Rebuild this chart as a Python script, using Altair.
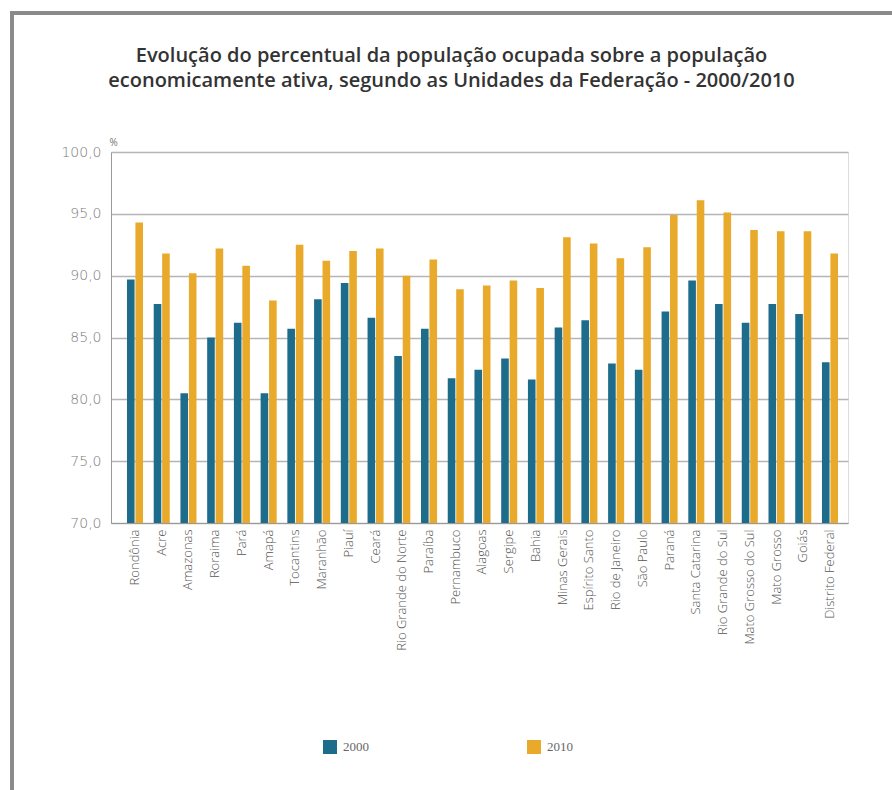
import altair as alt
import pandas as pd

states = ["Rondônia", "Acre", "Amazonas", "Roraima", "Pará", "Amapá", "Tocantins",
          "Maranhão", "Piauí", "Ceará", "Rio Grande do Norte", "Paraíba", "Pernambuco",
          "Alagoas", "Sergipe", "Bahia", "Minas Gerais", "Espírito Santo",
          "Rio de Janeiro", "São Paulo", "Paraná", "Santa Catarina",
          "Rio Grande do Sul", "Mato Grosso do Sul", "Mato Grosso", "Goiás",
          "Distrito Federal"]
v2000 = [89.7, 87.7, 80.5, 85.0, 86.2, 80.5, 85.7, 88.1, 89.4, 86.6, 83.5, 85.7, 81.7,
         82.4, 83.3, 81.6, 85.8, 86.4, 82.9, 82.4, 87.1, 89.6, 87.7, 86.2, 87.7, 86.9,
         83.0]
v2010 = [94.3, 91.8, 90.2, 92.2, 90.8, 88.0, 92.5, 91.2, 92.0, 92.2, 90.0, 91.3, 88.9,
         89.2, 89.6, 89.0, 93.1, 92.6, 91.4, 92.3, 94.9, 96.1, 95.1, 93.7, 93.6, 93.6,
         91.8]
years = ["2000", "2010"]
colors = ["#1d6c8c", "#e9aa2c"]

rows = []
for s, a, b in zip(states, v2000, v2010):
    rows.append({"uf": s, "ano": years[0], "valor": a})
    rows.append({"uf": s, "ano": years[1], "valor": b})
df = pd.DataFrame(rows)

W, H = 737, 371
PL, PT = 111, 152

bars = alt.Chart(df).mark_bar().encode(
    x=alt.X("uf:N", sort=states,
            scale=alt.Scale(paddingInner=0.4, paddingOuter=0.486, align=0.615),
            axis=alt.Axis(title=None, labelAngle=-90, labelFontSize=13,
                          labelFont="Open Sans", labelFontWeight=300,
                          labelColor="#555555",
                          ticks=False, labelPadding=6, domainColor="#999999")),
    xOffset=alt.XOffset("ano:N", scale=alt.Scale(paddingInner=0.1)),
    y=alt.Y("valor:Q",
            scale=alt.Scale(domain=[70, 100], zero=False, nice=False),
            axis=alt.Axis(title="%", titleAngle=0, titleX=-2, titleY=-5,
                          titleAlign="left", titleFontSize=10, titleFont="Open Sans",
                          titleFontWeight="normal", titleColor="#777777",
                          values=[70, 75, 80, 85, 90, 95, 100],
                          labelExpr="replace(format(datum.value, '.1f'), '.', ',')",
                          labelFontSize=14, labelFont="DejaVu Sans",
                          labelFontWeight=200,
                          labelColor="#7a7a7a", ticks=False, labelPadding=10,
                          grid=True, gridColor="#b5b5b5", gridWidth=1.3,
                          domainColor="#999999")),
    y2=alt.datum(70),
    color=alt.Color("ano:N", scale=alt.Scale(domain=years, range=colors),
                    legend=alt.Legend(title=None, orient="none", direction="horizontal",
                                      legendX=212, legendY=588, symbolType="square",
                                      symbolSize=196, symbolStrokeWidth=0,
                                      symbolOpacity=1, columnPadding=158,
                                      labelFont="Liberation Serif", labelFontSize=13,
                                      labelColor="#666666", labelOffset=6)),
)

frame_top = alt.Chart(df).mark_rule(color="#8a8a8a", strokeWidth=2.5).encode(
    x=alt.value(10 - PL), x2=alt.value(892 - PL), y=alt.value(13 - PT))
frame_left = alt.Chart(df).mark_rule(color="#8a8a8a", strokeWidth=2.5).encode(
    x=alt.value(12 - PL), y=alt.value(13 - PT), y2=alt.value(790 - PT))

chart = alt.layer(bars, frame_top, frame_left).properties(
    width=W, height=H,
    padding={"left": PL, "top": PT, "right": 892 - PL - W, "bottom": 790 - PT - H},
    autosize=alt.AutoSizeParams(type="none"),
    title=alt.TitleParams(
        ["Evolução do percentual da população ocupada sobre a população",
         "economicamente ativa, segundo as Unidades da Federação - 2000/2010"],
        anchor="middle", dx=-28, dy=79, offset=0, fontSize=20, font="Open Sans",
        fontWeight=600, color="#333333", lineHeight=25),
).configure_view(stroke="#b5b5b5", strokeWidth=1.3).configure(background="white")

chart.save("out.html", embed_options={"renderer": "svg", "actions": False})
